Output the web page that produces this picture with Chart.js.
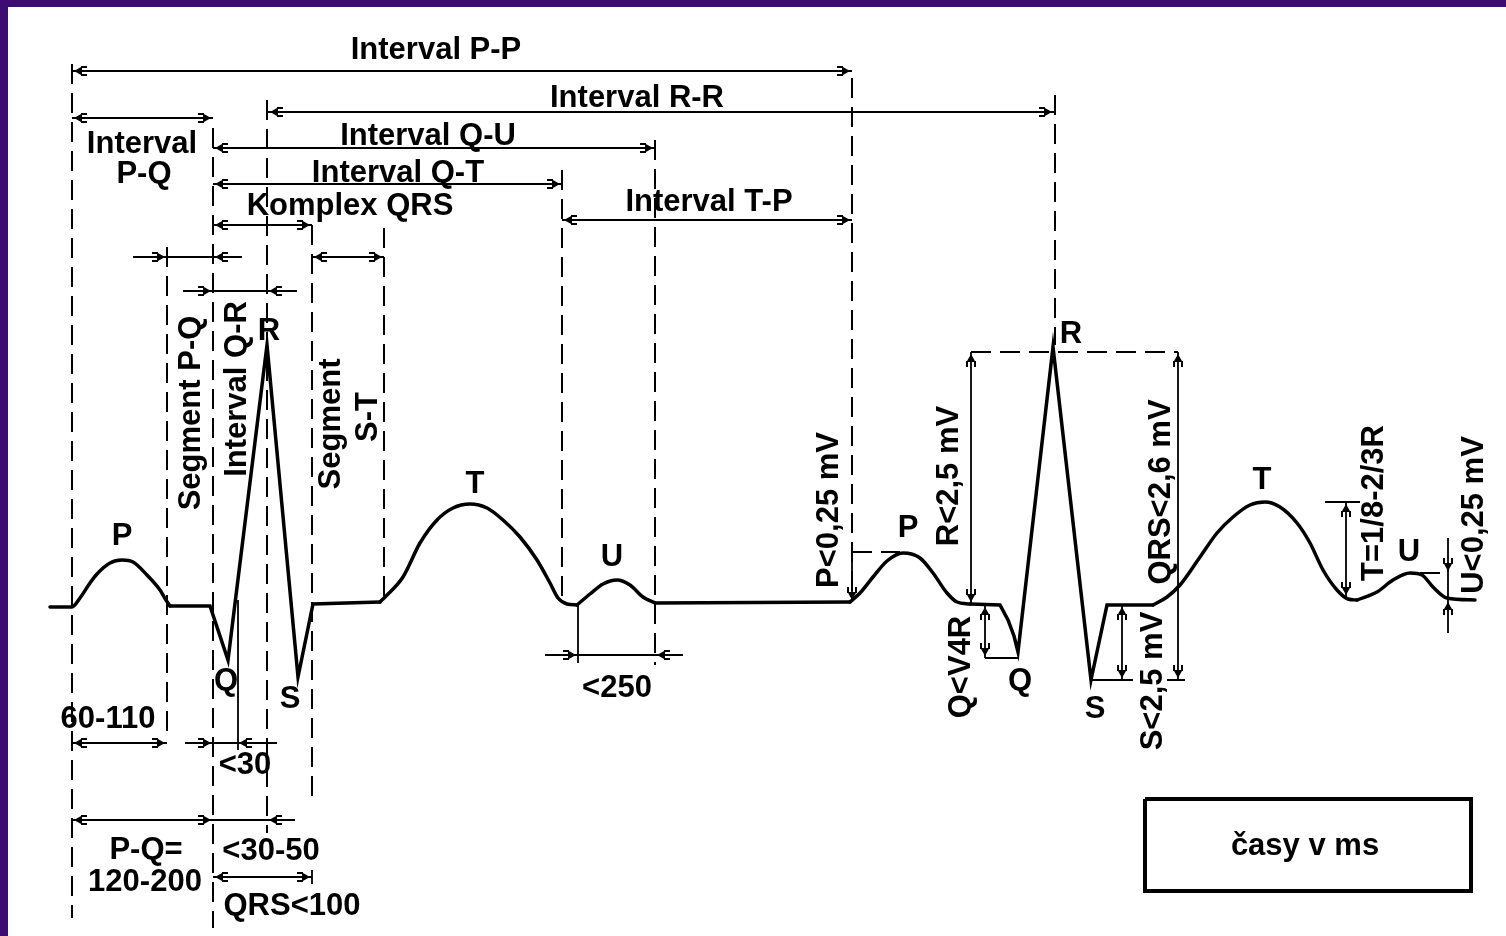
<!DOCTYPE html>
<html lang="cs">
<head>
<meta charset="utf-8">
<title>EKG – intervaly a segmenty</title>
<script src="https://cdn.jsdelivr.net/npm/chart.js@4.4.1/dist/chart.umd.min.js"></script>
<style>
  html, body { margin: 0; padding: 0; background: #3d0c72; overflow: hidden; }
  #sheet { position: absolute; left: 8px; top: 7px; width: 1498px; height: 929px; background: #fff; }
</style>
</head>
<body>
<div id="sheet"><canvas id="ekg"></canvas></div>
<script>
// Units are the drawing's own grid: x to the right, y downwards (y axis reversed).

// ECG trace — first beat
const p1 = [[50,607],[72,607],[80,598],[90,583],[97,574],[110,563],[122,560],[133,562],[147,575],[160,590],[166,600],[170,606]];
const qrs1 = [[170,606],[210,606],[228,660],[267,345],[298,677],[313,604],[380,602]];
const t1 = [[380,602],[385,597],[403,577],[420,543],[437,520],[453,508],[470,504],[487,508],[503,520],[520,537],[537,560],[550,583],[558,598],[567,604],[577,605]];
const u1 = [[577,605],[590,594],[603,584],[617,580],[630,585],[643,597],[655,603]];
const tpLine = [[655,603],[850,602]];
// second beat
const p2 = [[850,602],[860,593],[873,577],[887,561],[903,553],[920,558],[933,573],[947,593],[957,602],[970,604]];
const qrs2 = [[970,604],[1000,605],[1008,620],[1014,636],[1018,652],[1053,347],[1091,680],[1107,605],[1153,605]];
const t2 = [[1153,605],[1167,597],[1180,585],[1200,557],[1217,533],[1233,517],[1250,505],[1265,502],[1280,507],[1297,523],[1310,543],[1323,570],[1337,590],[1348,599],[1357,600]];
const u2 = [[1357,600],[1377,592],[1393,580],[1410,573],[1422,575],[1433,587],[1447,598],[1475,600]];

// dimension lines [x1, y1, x2, y2]
const dimLines = [
    [72,71,852,71], [267,112,1055,112], [72,118,213,118], [213,148,655,148],
    [213,184,562,184], [562,220,852,220], [213,225,312,225], [312,257,384,257],
    [133,257,242,257], [183,291,297,291],
    [72,743,167,743], [185,743,277,743], [72,820,213,820], [213,820,295,820], [213,877,312,877],
    [545,655,683,655],
    [852,551,852,600], [971,352,971,604], [1178,352,1178,680],
    [985,605,985,658], [985,658,1018,658],
    [1122,605,1122,680], [1091,680,1133,680], [1167,680,1185,680],
    [1346,502,1346,597], [1325,502,1360,502], [1448,538,1448,633],
    [238,600,238,750], [578,605,578,663],
    [655,140,655,157], [562,170,562,190], [72,737,72,750], [312,870,312,884],
];
// dashed extension lines
const extLines = [
    [72,64,72,918], [167,247,167,740], [213,128,213,928], [267,100,267,833],
    [312,225,312,805], [384,228,384,598], [562,170,562,600], [655,140,655,665],
    [852,78,852,592], [1055,95,1055,345],
    [852,552,900,552], [971,352,1178,352], [1420,573,1446,573],
];
// arrow tips [x, y, direction in degrees: 0 right, 90 down, 180 left, 270 up]
const arrowTips = [
    [74,71,180], [850,71,0], [270,112,180], [1052,112,0], [74,118,180], [211,118,0],
    [215,148,180], [653,148,0], [215,184,180], [560,184,0], [564,220,180], [850,220,0],
    [215,225,180], [310,225,0], [314,257,180], [382,257,0], [165,257,0], [215,257,180],
    [211,291,0], [269,291,180],
    [74,743,180], [165,743,0], [211,743,0], [239,743,180], [74,820,180], [211,820,0],
    [269,820,180], [215,877,180], [310,877,0], [576,655,0], [657,655,180],
    [852,600,90], [971,354,270], [971,602,90], [1178,354,270], [1178,678,90],
    [985,607,270], [985,656,90], [1122,607,270], [1122,678,90],
    [1346,504,270], [1346,595,90], [1448,571,90], [1448,602,270],
];
const noteBox = [[1145,799],[1471,799],[1471,891],[1145,891],[1145,799]];

// labels: upright [text, centre x, baseline y]; side (rotated) [text, baseline x, centre y]
const uprightLabels = [
    ['Interval P-P', 436, 59], ['Interval R-R', 637, 107], ['Interval Q-U', 428, 145],
    ['Interval Q-T', 398, 182], ['Komplex QRS', 350, 215], ['Interval T-P', 709, 211],
    ['Interval', 142, 153], ['P-Q', 144, 183],
    ['P', 122, 545], ['Q', 226, 690], ['R', 269, 340], ['S', 290, 708], ['T', 475, 493], ['U', 612, 566],
    ['60-110', 108, 728], ['<30', 245, 774], ['P-Q=', 146, 859], ['120-200', 145, 891],
    ['<30-50', 271, 860], ['QRS<100', 292, 915], ['<250', 617, 697],
    ['P', 908, 537], ['R', 1071, 343], ['Q', 1020, 690], ['S', 1095, 718], ['T', 1262, 489],
    ['U', 1409, 561], ['časy v ms', 1305, 855],
];
const sideLabels = [
    ['Segment P-Q', 200, 413], ['Interval Q-R', 246, 389], ['Segment', 340, 424], ['S-T', 377, 417],
    ['P<0,25 mV', 838, 510], ['R<2,5 mV', 958, 476], ['Q<V4R', 970, 667],
    ['QRS<2,6 mV', 1170, 492], ['S<2,5 mV', 1162, 681], ['T=1/8-2/3R', 1383, 503],
    ['U<0,25 mV', 1483, 515],
];

const pts = list => list.map(([x, y]) => ({ x, y }));
const segs = list => list.flatMap(([x1, y1, x2, y2]) => [{ x: x1, y: y1 }, { x: x2, y: y2 }, { x: null, y: null }]);

function makeArrow() {
    // tip sits in the centre of the image, so the data point is the tip
    const c = document.createElement('canvas');
    c.width = 32; c.height = 12;
    const g = c.getContext('2d');
    g.fillStyle = '#000'; g.strokeStyle = '#000'; g.lineWidth = 2;
    g.beginPath(); g.moveTo(16, 6); g.lineTo(8, 1.5); g.lineTo(8, 10.5); g.closePath(); g.fill();
    g.beginPath(); g.moveTo(9, 2); g.lineTo(3, 2); g.moveTo(9, 10); g.lineTo(3, 10); g.stroke();
    return c;
}

const wave = (list) => ({ data: pts(list), showLine: true, borderColor: '#000', borderWidth: 3.5, pointRadius: 0, cubicInterpolationMode: 'monotone', borderCapStyle: 'round' });
const spike = (list) => ({ data: pts(list), showLine: true, borderColor: '#000', borderWidth: 3.5, pointRadius: 0, tension: 0, borderJoinStyle: 'miter', borderCapStyle: 'round' });

const ink = {
    id: 'ink',
    afterDatasetsDraw(chart) {
        const { ctx, scales: { x, y } } = chart;
        ctx.save();
        ctx.fillStyle = '#000';
        ctx.font = 'bold 31px "Liberation Sans", Arial, sans-serif';
        ctx.textAlign = 'center';
        ctx.textBaseline = 'alphabetic';
        uprightLabels.forEach(([t, lx, ly]) => ctx.fillText(t, x.getPixelForValue(lx), y.getPixelForValue(ly)));
        sideLabels.forEach(([t, lx, ly]) => {
            ctx.save();
            ctx.translate(x.getPixelForValue(lx), y.getPixelForValue(ly));
            ctx.rotate(-Math.PI / 2);
            ctx.fillText(t, 0, 0);
            ctx.restore();
        });
        ctx.restore();
    }
};

new Chart(document.getElementById('ekg'), {
    type: 'scatter',
    data: {
        datasets: [
            spike(qrs1), spike(qrs2), spike(tpLine),
            wave(p1), wave(t1), wave(u1), wave(p2), wave(t2), wave(u2),
            { data: arrowTips.map(([x, y]) => ({ x, y })), showLine: false, pointStyle: makeArrow(), pointRadius: 5, pointRotation: arrowTips.map(a => a[2]) },
            { data: segs(dimLines), showLine: true, borderColor: '#000', borderWidth: 1.8, pointRadius: 0, spanGaps: false },
            { data: segs(extLines), showLine: true, borderColor: '#000', borderWidth: 2, borderDash: [20, 9], pointRadius: 0, spanGaps: false },
            { data: pts(noteBox), showLine: true, borderColor: '#000', borderWidth: 4, pointRadius: 0, borderJoinStyle: 'miter' },
        ]
    },
    options: {
        responsive: true, maintainAspectRatio: false, animation: false, devicePixelRatio: 1,
        layout: { padding: 0, autoPadding: false },
        events: [],
        plugins: { legend: { display: false }, tooltip: { enabled: false } },
        scales: {
            x: { type: 'linear', min: 8, max: 1506, display: false },
            y: { type: 'linear', min: 7, max: 936, reverse: true, display: false },
        },
    },
    plugins: [ink],
});
</script>
</body>
</html>
